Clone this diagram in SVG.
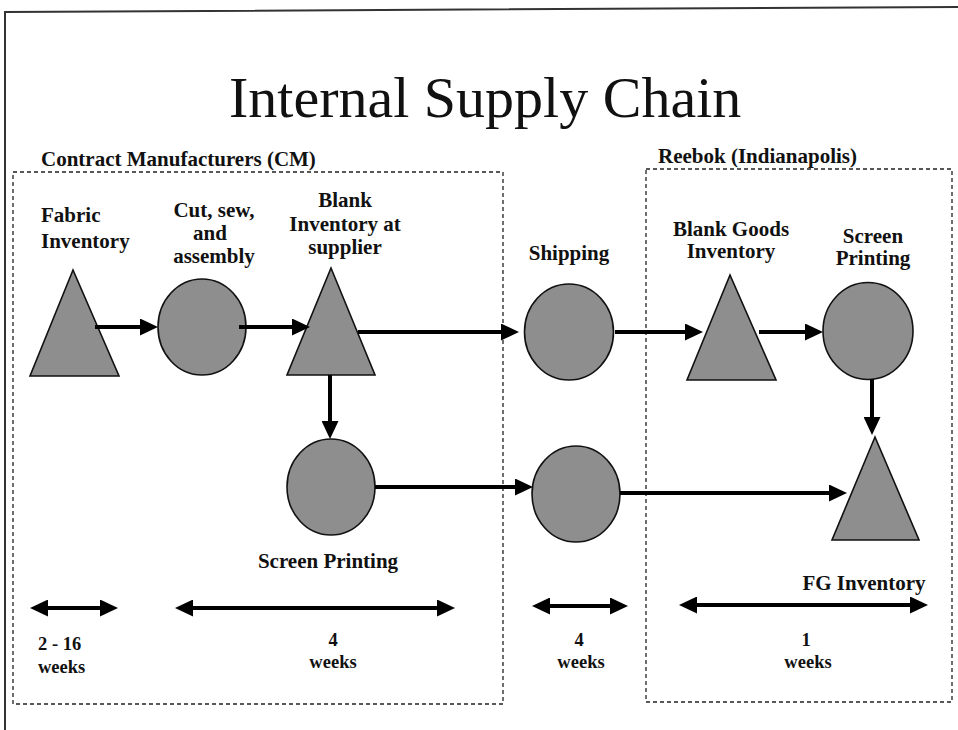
<svg xmlns="http://www.w3.org/2000/svg" width="958" height="730" viewBox="0 0 958 730">
<style>
.t{font-family:"Liberation Serif","Times New Roman",serif;font-weight:bold;font-size:21px;fill:#111}
.s{font-size:18.5px}
.m{text-anchor:middle}
.shape{fill:#8e8e8e;stroke:#111;stroke-width:1.6}
.box{fill:none;stroke:#222;stroke-width:1.3;stroke-dasharray:4 3}
.c{fill:none;stroke:#000;stroke-width:4;marker-end:url(#ah)}
.d{fill:none;stroke:#000;stroke-width:4;marker-start:url(#ah2);marker-end:url(#ah2)}
</style>
<defs>
<marker id="ah" markerUnits="userSpaceOnUse" markerWidth="18" markerHeight="17" refX="6" refY="8.5" orient="auto"><path d="M0,0 L18,8.5 L0,17 z" fill="#000"/></marker>
<marker id="ah2" markerUnits="userSpaceOnUse" markerWidth="18" markerHeight="17" refX="6" refY="8.5" orient="auto-start-reverse"><path d="M0,0 L18,8.5 L0,17 z" fill="#000"/></marker>
</defs>
<rect width="958" height="730" fill="#fff"/>
<path d="M5,730 L5,12 L958,7" fill="none" stroke="#333" stroke-width="2"/>
<text x="229" y="117" font-family="Liberation Serif,Times New Roman,serif" font-size="58" fill="#111">Internal Supply Chain</text>

<g id="cm-region">
<rect class="box" x="13" y="172" width="490" height="532"/>
<text class="t" x="41" y="166">Contract Manufacturers (CM)</text>
</g>
<g id="reebok-region">
<rect class="box" x="646" y="169" width="306" height="533"/>
<text class="t" x="658" y="163">Reebok (Indianapolis)</text>
</g>

<g id="fabric-inventory">
<polygon class="shape" points="73,270 30,376 119,376"/>
<text class="t" x="41" y="222">Fabric</text>
<text class="t" x="41" y="248">Inventory</text>
</g>
<g id="cut-sew">
<ellipse class="shape" cx="202" cy="327" rx="44" ry="48"/>
<text class="t m" x="214" y="217">Cut, sew,</text>
<text class="t m" x="210" y="240">and</text>
<text class="t m" x="214" y="263">assembly</text>
</g>
<g id="blank-inventory-supplier">
<polygon class="shape" points="331,268 287,375 375,375"/>
<text class="t m" x="345" y="207">Blank</text>
<text class="t m" x="345" y="231">Inventory at</text>
<text class="t m" x="345" y="254">supplier</text>
</g>
<g id="shipping">
<ellipse class="shape" cx="569" cy="332" rx="44.5" ry="48"/>
<text class="t m" x="569" y="260">Shipping</text>
</g>
<g id="blank-goods-inventory">
<polygon class="shape" points="730,275 687,380 776,380"/>
<text class="t m" x="731" y="236">Blank Goods</text>
<text class="t m" x="731" y="258">Inventory</text>
</g>
<g id="screen-printing-reebok">
<ellipse class="shape" cx="868" cy="331" rx="45" ry="48.5"/>
<text class="t m" x="873" y="243">Screen</text>
<text class="t m" x="873" y="265">Printing</text>
</g>
<g id="screen-printing-cm">
<ellipse class="shape" cx="331" cy="487" rx="44" ry="48"/>
<text class="t m" x="328" y="568">Screen Printing</text>
</g>
<g id="shipping-2">
<ellipse class="shape" cx="576" cy="494" rx="44" ry="48"/>
</g>
<g id="fg-inventory">
<polygon class="shape" points="875,437 832,540 919,540"/>
<text class="t m" x="864" y="590">FG Inventory</text>
</g>

<g id="connectors">
<line class="c" x1="95" y1="327" x2="146" y2="327"/>
<line class="c" x1="239" y1="327" x2="298" y2="327"/>
<line class="c" x1="358" y1="332" x2="507" y2="332"/>
<line class="c" x1="615" y1="332" x2="691" y2="332"/>
<line class="c" x1="759" y1="332" x2="811" y2="332"/>
<line class="c" x1="872" y1="379" x2="872" y2="423"/>
<line class="c" x1="330" y1="375" x2="330" y2="427"/>
<line class="c" x1="375" y1="487" x2="521" y2="487"/>
<line class="c" x1="620" y1="493" x2="835" y2="493"/>
</g>

<g id="durations">
<line class="d" x1="42" y1="608" x2="106" y2="608"/>
<line class="d" x1="187" y1="608" x2="443" y2="608"/>
<line class="d" x1="544" y1="606" x2="616" y2="606"/>
<line class="d" x1="691" y1="605" x2="916" y2="605"/>
<text class="t s" x="38" y="650">2 - 16</text>
<text class="t s" x="38" y="673">weeks</text>
<text class="t s m" x="333" y="646">4</text>
<text class="t s m" x="333" y="668">weeks</text>
<text class="t s m" x="579" y="646">4</text>
<text class="t s m" x="581" y="668">weeks</text>
<text class="t s m" x="806" y="646">1</text>
<text class="t s m" x="808" y="668">weeks</text>
</g>
</svg>
